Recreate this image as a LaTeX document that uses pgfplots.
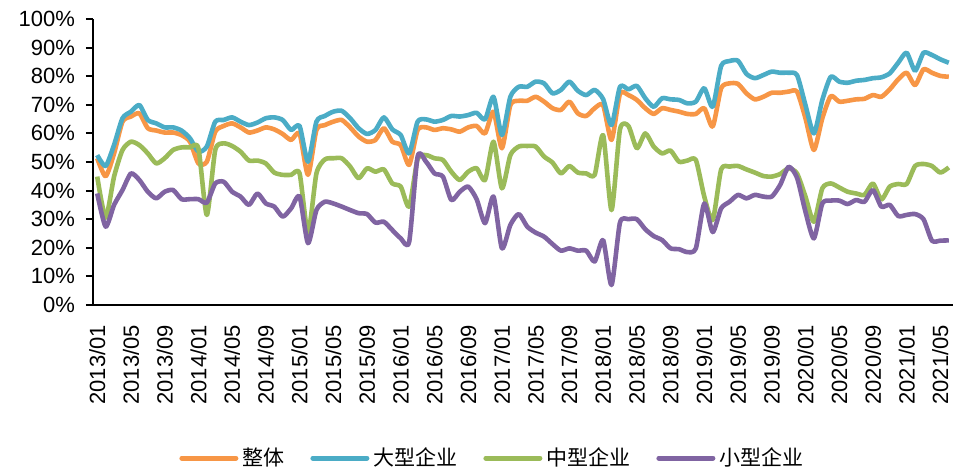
\documentclass[border=0pt]{standalone}
\usepackage{fontspec}
\setmainfont{Liberation Sans}
\newfontfamily\cjk{Noto Sans CJK SC}
\usepackage{pgfplots}
\pgfplotsset{compat=1.18}
\usepackage{pgfplotstable}
\definecolor{cO}{HTML}{F79646}
\definecolor{cB}{HTML}{4BACC6}
\definecolor{cG}{HTML}{9BBB59}
\definecolor{cP}{HTML}{8064A2}

\pgfplotstableread{
i O B G P
0 51.3 52.4 44.9 39.0
1 45.0 48.6 30.5 27.4
2 53.0 56.0 44.9 35.0
3 64.1 65.3 54.2 40.2
4 65.9 67.6 57.1 46.0
5 67.0 69.9 55.9 43.7
6 61.8 64.7 53.0 39.6
7 61.0 63.5 49.5 37.3
8 60.3 62.1 51.3 39.6
9 60.3 62.1 54.2 40.2
10 59.4 61.0 55.1 37.0
11 57.1 58.3 55.1 37.0
12 49.5 53.6 54.8 37.0
13 50.1 55.4 31.5 35.8
14 60.6 64.1 54.2 42.5
15 62.6 64.7 56.5 43.1
16 63.5 65.6 55.6 39.6
17 62.1 64.1 53.6 37.9
18 60.3 62.9 50.5 35.0
19 61.0 63.8 50.5 39.0
20 62.1 65.3 49.5 35.5
21 61.4 65.6 46.3 34.4
22 59.8 64.7 45.5 30.9
23 57.7 61.2 45.5 33.8
24 60.0 62.6 46.0 37.9
25 45.5 50.1 25.1 21.6
26 61.2 64.1 46.0 33.2
27 62.9 66.1 50.9 36.1
28 64.1 67.6 51.3 35.5
29 64.7 67.9 51.3 34.4
30 62.1 65.3 48.4 33.2
31 58.9 61.8 44.3 32.1
32 57.1 59.8 47.8 31.8
33 57.7 61.2 46.6 28.8
34 61.8 65.6 47.4 29.1
35 57.1 61.4 42.5 26.2
36 55.9 59.4 41.4 23.3
37 49.0 53.0 34.4 22.1
38 61.2 64.1 51.0 51.9
39 62.1 64.9 52.4 50.1
40 61.2 64.1 51.3 46.0
41 61.8 64.7 50.7 44.9
42 61.4 66.1 46.6 36.7
43 60.6 65.9 43.7 39.6
44 62.1 66.4 46.6 41.4
45 62.6 67.2 47.8 37.0
46 60.0 64.9 43.7 28.6
47 67.6 72.8 57.1 37.9
48 54.8 59.4 40.8 19.8
49 69.9 72.8 52.4 28.0
50 71.4 76.3 55.4 31.8
51 71.4 76.3 55.6 27.4
52 72.8 78.1 55.4 25.3
53 71.1 77.5 51.9 23.9
54 68.8 74.0 49.8 21.3
55 68.2 75.2 46.0 19.0
56 71.1 78.1 48.6 19.8
57 67.0 74.9 46.3 19.0
58 66.1 73.4 46.0 19.0
59 68.8 75.2 45.5 15.2
60 69.9 72.0 59.4 22.7
61 57.7 62.9 33.2 7.0
62 73.8 76.3 61.4 28.8
63 73.4 75.4 62.6 30.0
64 71.7 76.6 54.8 30.0
65 68.8 72.3 60.0 26.5
66 66.8 69.3 55.4 24.1
67 68.8 72.3 53.0 22.7
68 68.2 71.9 54.0 19.8
69 67.6 71.7 50.1 19.5
70 66.8 70.5 50.5 18.5
71 66.8 71.1 50.7 19.8
72 68.8 75.8 37.9 35.5
73 62.4 69.3 29.7 25.5
74 75.8 83.6 47.4 33.8
75 77.5 85.3 48.4 36.1
76 77.3 85.4 48.6 38.5
77 74.0 80.8 47.4 37.3
78 71.9 79.3 46.3 38.5
79 72.8 80.4 45.1 37.9
80 74.2 81.6 44.9 37.9
81 74.2 81.2 45.8 42.0
82 74.6 81.2 47.8 48.3
83 74.6 80.4 46.0 44.5
84 65.3 69.9 37.9 32.6
85 54.2 60.0 29.1 23.3
86 65.3 71.7 40.8 35.5
87 73.0 79.8 42.5 36.5
88 71.1 78.1 41.1 36.5
89 71.4 77.7 39.6 35.3
90 71.9 78.4 39.0 36.7
91 72.1 78.7 38.5 36.1
92 73.4 79.3 42.5 40.2
93 72.8 79.6 36.9 34.4
94 75.4 81.0 41.4 35.0
95 78.9 84.7 42.3 31.1
96 81.2 88.2 42.3 31.5
97 76.9 81.9 48.6 31.8
98 82.4 88.2 49.3 30.0
99 81.2 87.4 48.6 22.5
100 80.1 85.9 46.3 22.5
101 79.8 84.7 48.1 22.6
}\data

\begin{document}
\begin{tikzpicture}
\path[use as bounding box] (0,0) rectangle (481pt,234.5pt);
\begin{axis}[
  at={(46.5pt,82pt)}, anchor=south west,
  scale only axis, width=430pt, height=143pt,
  xmin=-0.5, xmax=101.5, ymin=0, ymax=100,
  axis lines*=left,
  axis line style={black, line width=1pt, -},
  xtick={0,4,...,100},
  xticklabels={2013/01,2013/05,2013/09,2014/01,2014/05,2014/09,2015/01,2015/05,2015/09,2016/01,2016/05,2016/09,2017/01,2017/05,2017/09,2018/01,2018/05,2018/09,2019/01,2019/05,2019/09,2020/01,2020/05,2020/09,2021/01,2021/05},
  ytick={0,10,...,100},
  yticklabels={0\%,10\%,20\%,30\%,40\%,50\%,60\%,70\%,80\%,90\%,100\%},
  tick align=outside,
  major tick length=3.5pt,
  xtick style={draw=none},
  ytick style={black, line width=1pt},
  tick label style={font=\fontsize{11}{13}\selectfont},
  xticklabel style={yshift=-3pt, rotate=90, anchor=east},
  yticklabel style={xshift=-2pt},
  legend columns=4,
  legend style={at={(0.093,-0.535)}, anchor=west, draw=none, fill=none,
    font=\cjk\fontsize{10.5}{12}\selectfont,
    /tikz/every even column/.append style={column sep=11pt}},
  legend image code/.code={\draw[#1, line width=2.5pt, line cap=round] (0pt,0pt) -- (27pt,0pt);},
  every axis plot/.append style={line width=2.3pt, smooth, tension=0.4, no markers, line join=round},
]
\addplot[cO] table[x=i, y=O] {\data};
\addlegendentry{整体}
\addplot[cB] table[x=i, y=B] {\data};
\addlegendentry{大型企业}
\addplot[cG] table[x=i, y=G] {\data};
\addlegendentry{中型企业}
\addplot[cP] table[x=i, y=P] {\data};
\addlegendentry{小型企业}
\end{axis}
\end{tikzpicture}
\end{document}
